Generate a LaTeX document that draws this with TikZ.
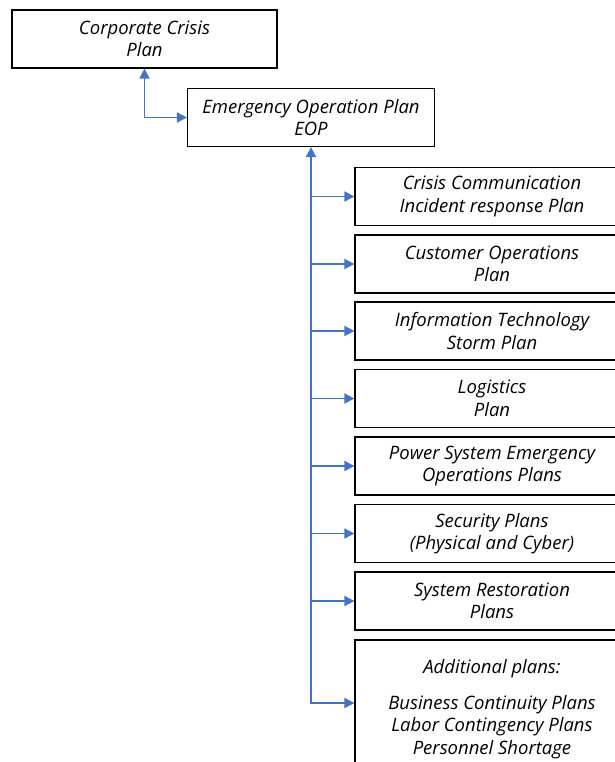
\documentclass[tikz,border=0pt]{standalone}
\usepackage{fontspec}
\setmainfont{Open Sans}
\usetikzlibrary{arrows.meta,positioning}
\definecolor{linkblue}{RGB}{68,114,196}

\tikzset{
  plan/.style={draw, line width=1.2pt, align=center, inner sep=0pt,
    font=\itshape\fontsize{18.5}{22.5}\selectfont},
  top/.style={plan, minimum height=58pt},
  sub/.style={plan, minimum width=274pt, minimum height=58pt},
  tip/.tip={Triangle[length=10pt,width=10pt]},
  link/.style={linkblue, line width=1.7pt, -tip},
  link2/.style={linkblue, line width=1.7pt, tip-tip}
}

\begin{document}
\begin{tikzpicture}[x=1pt,y=-1pt]
\useasboundingbox (0,0) rectangle (614,762);
% top of the tree
\node[top, minimum width=265pt] (ccp) at (144.5,39) {Corporate Crisis\\Plan};
\node[top, minimum width=247pt] (eop) at (311,117.5) {Emergency Operation Plan\\EOP};
% plans under the EOP
\node[sub] (ccom) at (492,196.5) {Crisis Communication\\Incident response Plan};
\node[sub] (cust) at (492,264) {Customer Operations\\Plan};
\node[sub] (itsp) at (492,331) {Information Technology\\Storm Plan};
\node[sub] (logi) at (492,398.5) {Logistics\\Plan};
\node[sub] (psys) at (492,466) {Power System Emergency\\Operations Plans};
\node[sub] (secu) at (492,533.5) {Security Plans\\(Physical and Cyber)};
\node[sub] (srest) at (492,601) {System Restoration\\Plans};
\node[sub, minimum height=138pt] (addl) at (492,709)
  {Additional plans:\\[13pt]Business Continuity Plans\\Labor Contingency Plans\\Personnel Shortage};
\coordinate (addin) at ([yshift=6pt]addl.west);
% connectors
\draw[link2] (ccp.south) |- (eop.west);
\draw[link2] (eop.south) |- (addin);
\draw[link] (eop.south |- ccom.west) -- (ccom.west);
\draw[link] (eop.south |- cust.west) -- (cust.west);
\draw[link] (eop.south |- itsp.west) -- (itsp.west);
\draw[link] (eop.south |- logi.west) -- (logi.west);
\draw[link] (eop.south |- psys.west) -- (psys.west);
\draw[link] (eop.south |- secu.west) -- (secu.west);
\draw[link] (eop.south |- srest.west) -- (srest.west);
\end{tikzpicture}
\end{document}
